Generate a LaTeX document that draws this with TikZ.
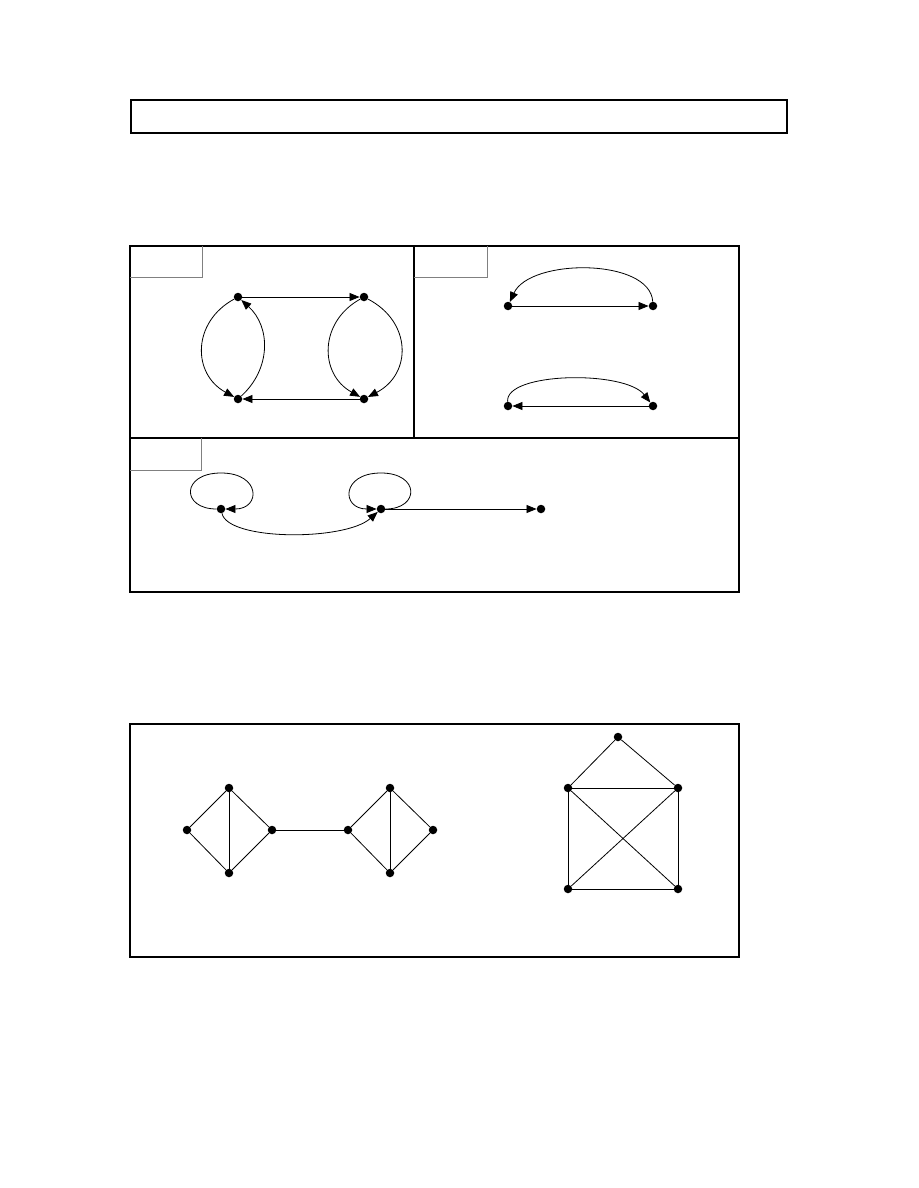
\documentclass[tikz,border=0pt]{standalone}
\usetikzlibrary{arrows.meta}
\begin{document}
\begin{tikzpicture}[x=1pt,y=-1pt,
  dot/.style={circle,fill=black,inner sep=0pt,minimum size=8.5pt},
  frame/.style={draw=black,line width=1.1pt},
  tag/.style={draw=black!50,line width=0.9pt},
  edge/.style={draw=black,line width=0.8pt},
  arr/.style={edge,-{Triangle[length=10pt,width=8pt]}}]
\useasboundingbox (0,0) rectangle (918,1188);
% top box
\draw[frame] (131,100) rectangle (787,133);
% panel frame
\draw[frame] (130,246) rectangle (739,592);
\draw[frame] (414,246) -- (414,438);
\draw[frame] (130,438) -- (739,438);
% tag boxes
\draw[tag] (130,277) -- (202,277) -- (202,246);
\draw[tag] (414,277) -- (487,277) -- (487,246);
\draw[tag] (130,470) -- (201,470) -- (201,438);
% panel A
\node[dot] (A1) at (238,297) {};
\node[dot] (A2) at (364,297) {};
\node[dot] (A3) at (238,399) {};
\node[dot] (A4) at (364,399) {};
\draw[arr] (A1) -- (A2);
\draw[arr] (A4) -- (A3);
\draw[arr] (A1) .. controls +(-46,25) and +(-46,-25) .. (A3);
\draw[arr] (A3) .. controls +(33,-30) and +(33,30) .. (A1);
\draw[arr] (A2) .. controls +(-45,25) and +(-45,-25) .. (A4);
\draw[arr] (A2) .. controls +(48,25) and +(48,-25) .. (A4);
% panel B
\node[dot] (B1) at (508,306) {};
\node[dot] (B2) at (653,306) {};
\node[dot] (B3) at (508,406) {};
\node[dot] (B4) at (653,406) {};
\draw[arr] (B1) -- (B2);
\draw[arr] (B2) .. controls (650,258) and (530,258) .. (B1);
\draw[arr] (B4) -- (B3);
\draw[arr] (B3) .. controls (505,372) and (625,370) .. (B4);
% panel C
\node[dot] (C1) at (221,509) {};
\node[dot] (C2) at (381,509) {};
\node[dot] (C3) at (541,509) {};
\draw[arr] (C1) .. controls (181,509) and (181,473) .. (221,473) .. controls (261,473) and (261,509) .. (C1);
\draw[arr] (C2) .. controls (420,509) and (420,473) .. (381,473) .. controls (341,473) and (341,509) .. (C2);
\draw[arr] (C1) .. controls (228,541) and (345,541) .. (C2);
\draw[arr] (C2) -- (C3);
% bottom panel
\draw[frame] (130,724) rectangle (739,957);
\node[dot] (D1) at (187,830) {};
\node[dot] (D2) at (229,788) {};
\node[dot] (D3) at (272,830) {};
\node[dot] (D4) at (229,873) {};
\node[dot] (E1) at (348,830) {};
\node[dot] (E2) at (390,788) {};
\node[dot] (E3) at (433,830) {};
\node[dot] (E4) at (390,873) {};
\draw[edge] (D1) -- (D2) -- (D3) -- (D4) -- (D1);
\draw[edge] (D2) -- (D4);
\draw[edge] (D3) -- (E1);
\draw[edge] (E1) -- (E2) -- (E3) -- (E4) -- (E1);
\draw[edge] (E2) -- (E4);
\node[dot] (F0) at (618,737) {};
\node[dot] (F1) at (568,788) {};
\node[dot] (F2) at (678,788) {};
\node[dot] (F3) at (568,889) {};
\node[dot] (F4) at (678,889) {};
\draw[edge] (F0) -- (F1);
\draw[edge] (F0) -- (F2);
\draw[edge] (F1) -- (F2);
\draw[edge] (F1) -- (F3);
\draw[edge] (F2) -- (F4);
\draw[edge] (F3) -- (F4);
\draw[edge] (F1) -- (F4);
\draw[edge] (F2) -- (F3);
\end{tikzpicture}
\end{document}
